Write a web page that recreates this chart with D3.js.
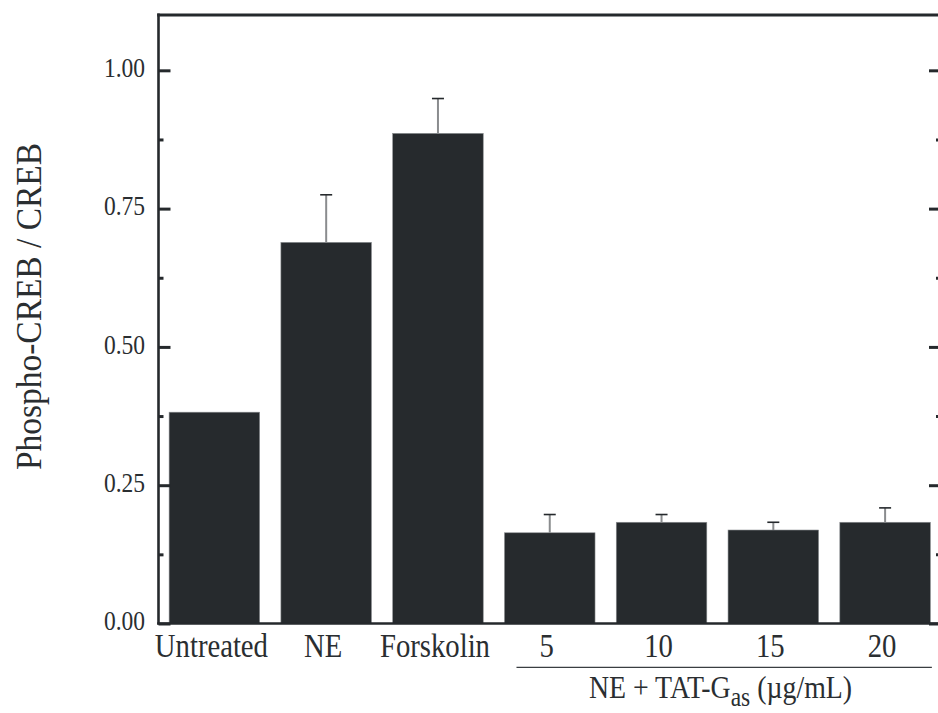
<!DOCTYPE html>
<html>
<head>
<meta charset="utf-8">
<script src="https://cdn.jsdelivr.net/npm/d3@7"></script>
<style>
  html, body { margin: 0; padding: 0; background: #ffffff; }
  svg { display: block; }
  text { font-family: "Liberation Serif", "Times New Roman", serif; fill: #2a2e31; }
</style>
</head>
<body>
<svg id="chart" width="938" height="713"></svg>
<script>
// ---- data ----
const categories = ["Untreated", "NE", "Forskolin", "5", "10", "15", "20"];
const means = [0.382, 0.689, 0.886, 0.164, 0.183, 0.169, 0.183];
const errors = [null, 0.086, 0.063, 0.033, 0.014, 0.014, 0.026];
const majorTicks = [0.00, 0.25, 0.50, 0.75, 1.00];
const minorTicks = [0.125, 0.375, 0.625, 0.875];
const groupCategories = ["5", "10", "15", "20"];
const yLabel = "Phospho-CREB / CREB";

// ---- layout ----
const ink = "#25292c";
const mL = 158.5, mR = 941, mT = 15, mB = 623.5;
const svg = d3.select("#chart");

const x = d3.scaleBand().domain(categories).range([mL, mR])
  .paddingInner(0.19).paddingOuter(0.095);
const y = d3.scaleLinear().domain([0, 1.1]).range([mB, mT]);

// bars
svg.append("g").selectAll("rect").data(categories).join("rect")
  .attr("x", d => x(d))
  .attr("y", (d, i) => y(means[i]))
  .attr("width", x.bandwidth())
  .attr("height", (d, i) => y(0) - y(means[i]))
  .attr("fill", "#262a2d")
  .attr("stroke", "#8a8d90")
  .attr("stroke-width", 0.6);

// error bars (upper only)
const eb = svg.append("g");
categories.forEach((c, i) => {
  if (errors[i] == null) return;
  const cx = x(c) + x.bandwidth() / 2;
  eb.append("line")
    .attr("x1", cx).attr("x2", cx)
    .attr("y1", y(means[i])).attr("y2", y(means[i] + errors[i]))
    .attr("stroke", "#8a8c8e").attr("stroke-width", 2);
  eb.append("line")
    .attr("x1", cx - 6).attr("x2", cx + 6)
    .attr("y1", y(means[i] + errors[i])).attr("y2", y(means[i] + errors[i]))
    .attr("stroke", ink).attr("stroke-width", 1.6);
});

// left axis ticks (inward)
const gl = svg.append("g").attr("transform", `translate(${mL},0)`);
gl.call(d3.axisLeft(y).tickValues(majorTicks).tickSize(-12).tickFormat(""));
gl.append("g").call(d3.axisLeft(y).tickValues(minorTicks).tickSize(-5).tickFormat(""));
gl.selectAll(".domain").remove();
gl.selectAll("line").attr("stroke", ink).attr("stroke-width", 3);

// right axis ticks (inward)
const gr = svg.append("g").attr("transform", `translate(${mR},0)`);
gr.call(d3.axisRight(y).tickValues(majorTicks).tickSize(-12).tickFormat(""));
gr.append("g").call(d3.axisRight(y).tickValues(minorTicks).tickSize(-5).tickFormat(""));
gr.selectAll(".domain").remove();
gr.selectAll("line").attr("stroke", ink).attr("stroke-width", 3);

// frame lines: left, top, bottom
svg.append("line").attr("x1", mL).attr("x2", mL).attr("y1", mT - 1.5).attr("y2", mB + 1)
  .attr("stroke", ink).attr("stroke-width", 2.6);
svg.append("line").attr("x1", mL - 1.3).attr("x2", mR).attr("y1", mT).attr("y2", mT)
  .attr("stroke", ink).attr("stroke-width", 3);
svg.append("line").attr("x1", mL - 1.3).attr("x2", mR).attr("y1", mB).attr("y2", mB)
  .attr("stroke", ink).attr("stroke-width", 2.4);

// y tick labels
svg.append("g").selectAll("text").data(majorTicks).join("text")
  .attr("transform", d => `translate(145,${y(d) + 6.7}) scale(0.87,1)`)
  .attr("text-anchor", "end")
  .attr("font-size", 27)
  .text(d => d3.format(".2f")(d));

// x tick labels
svg.append("g").selectAll("text").data(categories).join("text")
  .attr("transform", d => `translate(${x(d) + x.bandwidth() / 2 - 3},657.3) scale(0.87,1)`)
  .attr("text-anchor", "middle")
  .attr("font-size", 33)
  .text(d => d);

// group bracket
const gx0 = x(groupCategories[0]) + 12;
const gx1 = x(groupCategories[groupCategories.length - 1]) + x.bandwidth() + 1.5;
svg.append("line").attr("x1", gx0).attr("x2", gx1).attr("y1", 667.3).attr("y2", 667.3)
  .attr("stroke", "#3a3e41").attr("stroke-width", 1.2);
const gt = svg.append("text")
  .attr("transform", `translate(${(586 + 855) / 2},698.3) scale(0.87,1)`)
  .attr("text-anchor", "middle")
  .attr("font-size", 32);
gt.append("tspan").text("NE + TAT-G");
gt.append("tspan").attr("font-size", 27).attr("dy", 8).text("as");
gt.append("tspan").attr("dy", -8).text(" (\u00b5g/mL)");

// y label
svg.append("text")
  .attr("transform", `translate(41,306.5) rotate(-90)`)
  .attr("text-anchor", "middle")
  .attr("font-size", 36)
  .attr("textLength", 327)
  .attr("lengthAdjust", "spacingAndGlyphs")
  .text(yLabel);
</script>
</body>
</html>
